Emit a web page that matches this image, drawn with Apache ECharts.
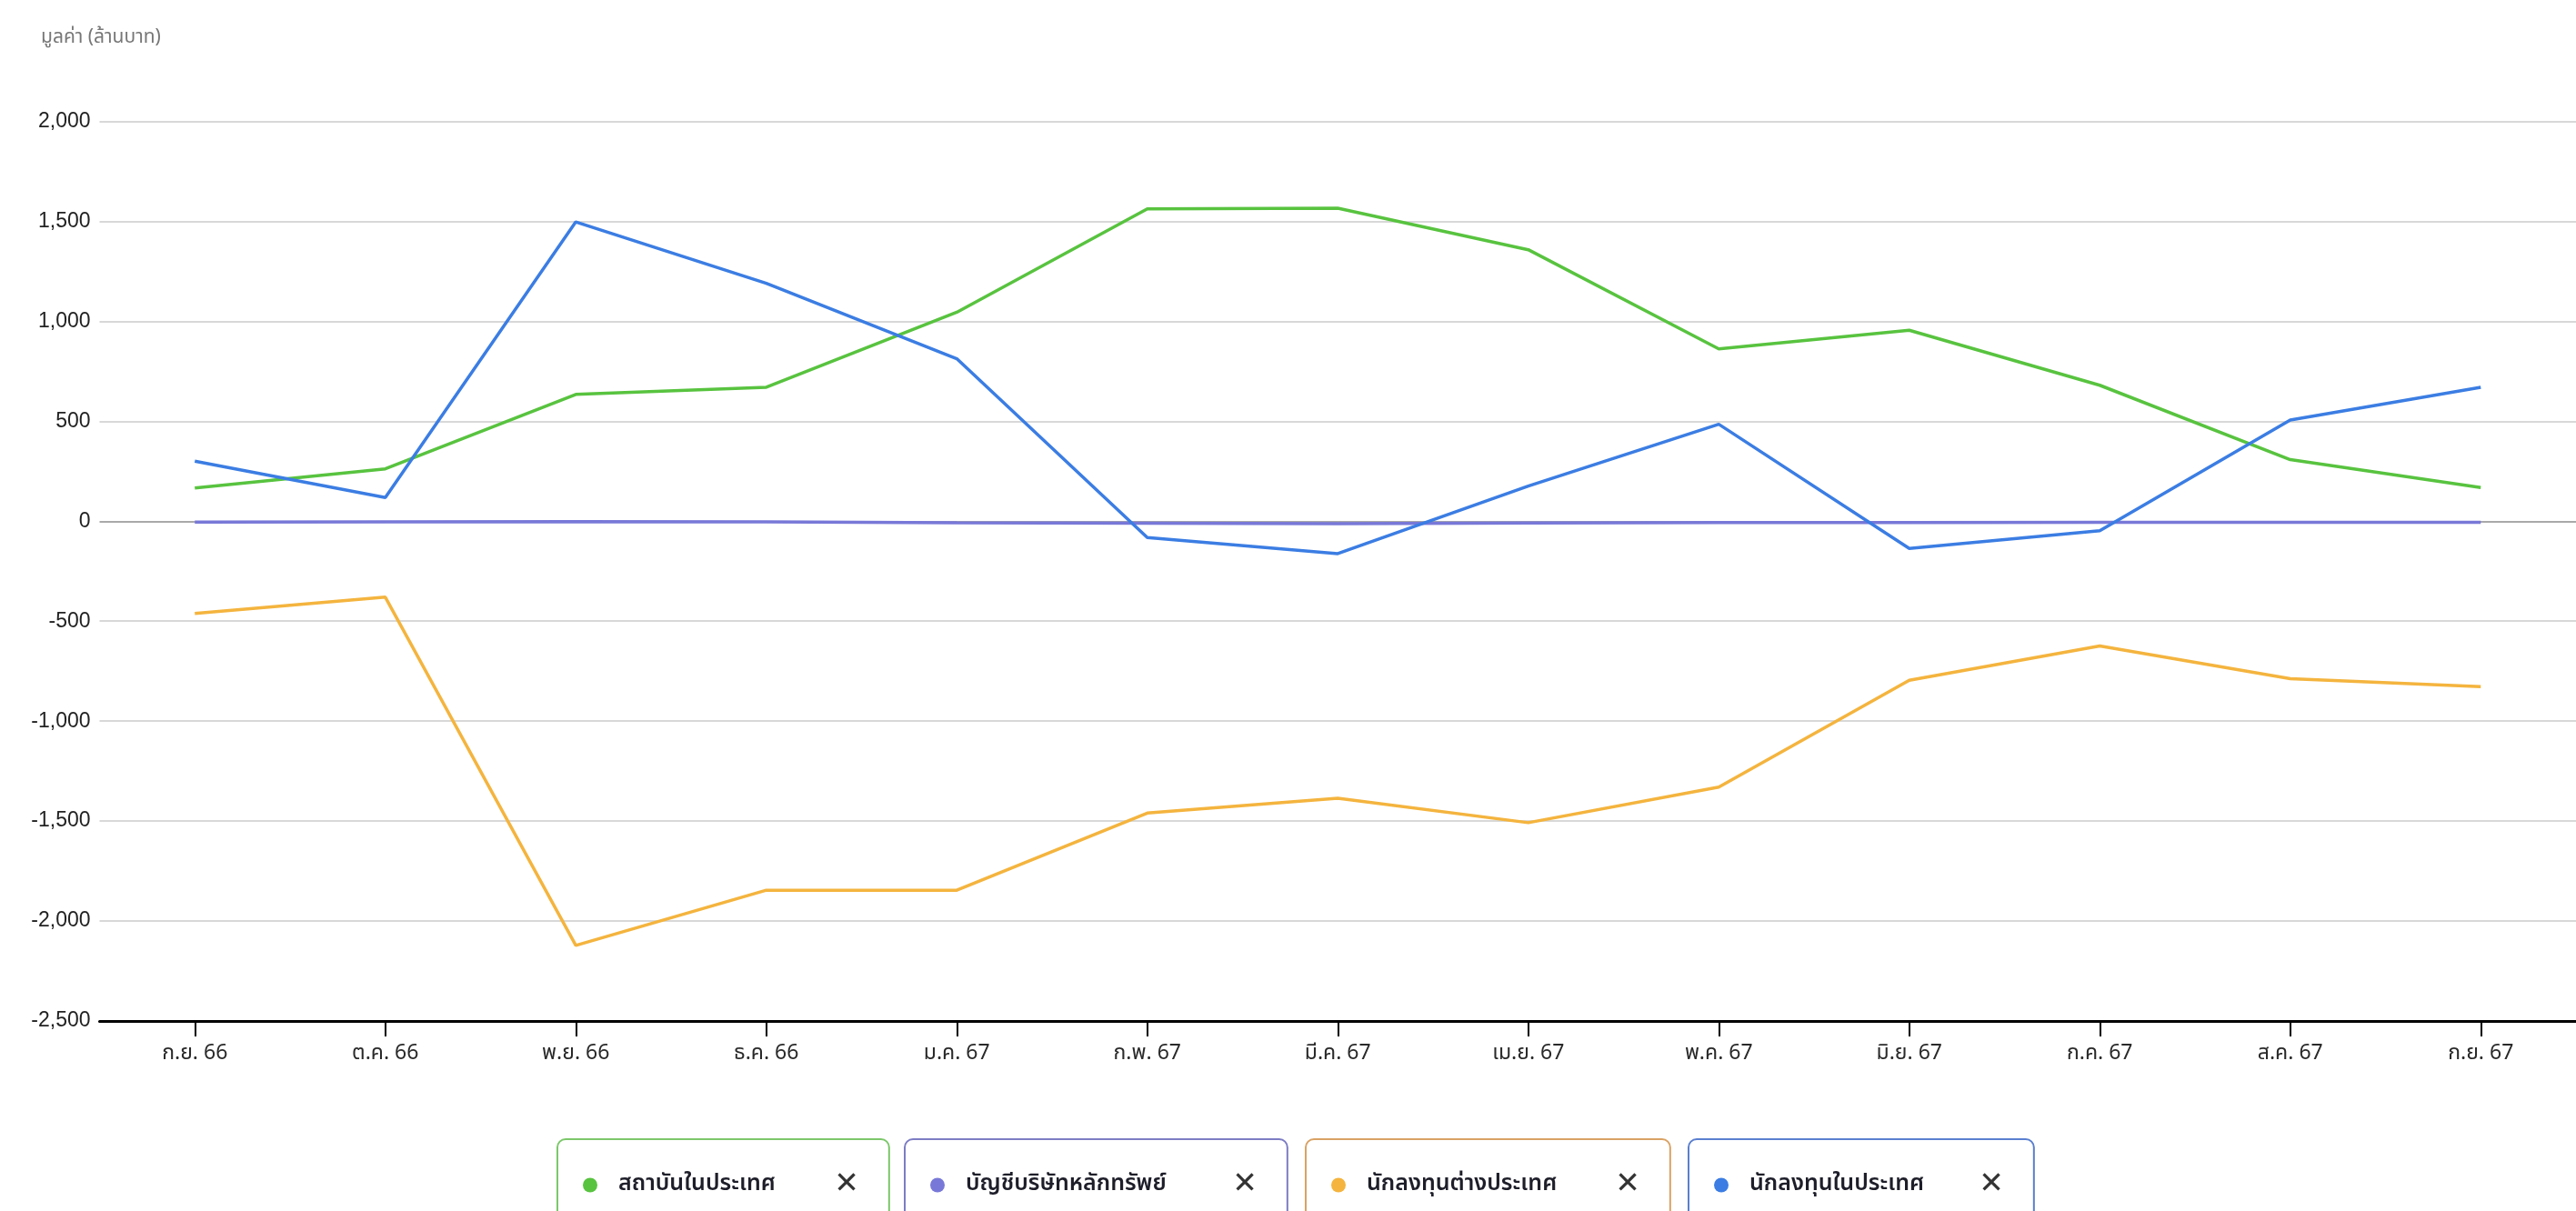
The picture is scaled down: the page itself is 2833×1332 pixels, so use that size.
<!DOCTYPE html>
<html>
<head>
<meta charset="utf-8">
<script src="https://cdn.jsdelivr.net/npm/echarts@6/dist/echarts.min.js"></script>
<style>
  html, body { margin: 0; padding: 0; background: #ffffff; overflow: hidden; }
  #chart { width: 2833px; height: 1332px; }
</style>
</head>
<body>
<div id="chart"></div>
<script>
// ---- data ----
const categories = ['ก.ย. 66', 'ต.ค. 66', 'พ.ย. 66', 'ธ.ค. 66', 'ม.ค. 67', 'ก.พ. 67', 'มี.ค. 67', 'เม.ย. 67', 'พ.ค. 67', 'มิ.ย. 67', 'ก.ค. 67', 'ส.ค. 67', 'ก.ย. 67'];
const seriesNames = ['สถาบันในประเทศ', 'บัญชีบริษัทหลักทรัพย์', 'นักลงทุนต่างประเทศ', 'นักลงทุนในประเทศ'];
const localInstitutions = [166, 262, 634, 670, 1045, 1562, 1566, 1358, 862, 955, 680, 308, 168];
const brokerAccounts   = [-4, -3, -2, -3, -8, -10, -12, -9, -7, -7, -5, -5, -5];
const foreignInvestors = [-462, -380, -2122, -1846, -1846, -1460, -1386, -1508, -1330, -796, -624, -788, -828];
const localInvestors   = [300, 118, 1497, 1190, 813, -82, -162, 176, 485, -136, -48, 506, 670];
const yTicks = { min: -2500, max: 2000, interval: 500 };
const axisTitle = 'มูลค่า (ล้านบาท)';

// ---- style ----
const colors = ['#58c33f', '#7878d8', '#f4b43e', '#3b7de3'];
const chipBorders = ['#7cc76a', '#7c7cc4', '#d9a265', '#5a7fcf'];
const chipLayout = [
  { left: 613, nameW: 238 },
  { left: 995, nameW: 294 },
  { left: 1436, nameW: 274 },
  { left: 1857, nameW: 253 }
];
const thaiFont = '"Noto Sans Thai", "Noto Sans Thai UI", Tahoma, "Noto Sans", "DejaVu Sans", sans-serif';

const values = [localInstitutions, brokerAccounts, foreignInvestors, localInvestors];

const nTicks = Math.round((yTicks.max - yTicks.min) / yTicks.interval) + 1;
const splitColors = [];
for (let i = 0; i < nTicks; i++) {
  const v = yTicks.min + i * yTicks.interval;
  splitColors.push(v === 0 ? '#a9a9a9' : '#d8d8d8');
}

const legends = seriesNames.map((name, i) => ({
  data: [name],
  left: chipLayout[i].left,
  top: 1253,
  orient: 'horizontal',
  icon: 'circle',
  itemWidth: 16,
  itemHeight: 16,
  itemGap: 0,
  selectedMode: false,
  padding: [34, 33, 40, 28],
  borderColor: chipBorders[i],
  borderWidth: 2,
  borderRadius: 9,
  backgroundColor: '#ffffff',
  formatter: (n) => '{n|' + n + '}{x|✕}',
  textStyle: {
    fontFamily: thaiFont,
    rich: {
      n: { width: chipLayout[i].nameW, padding: [0, 0, 0, 18], fontSize: 25, fontWeight: 600, color: '#1e1e2a', fontFamily: thaiFont },
      x: { width: 26, align: 'center', fontSize: 33, color: '#333333', fontFamily: '"DejaVu Sans", sans-serif' }
    }
  }
}));

const chart = echarts.init(document.getElementById('chart'), null, { renderer: 'canvas' });
chart.setOption({
  backgroundColor: '#ffffff',
  animation: false,
  color: colors,
  title: {
    text: axisTitle,
    left: 40,
    top: 27,
    textStyle: { fontSize: 21, fontWeight: 'normal', color: '#777777', fontFamily: thaiFont }
  },
  legend: legends,
  grid: { left: 109.5, right: -20.5, top: 133.5, bottom: 209, containLabel: false },
  xAxis: {
    type: 'category',
    data: categories,
    boundaryGap: true,
    axisLine: { show: true, onZero: false, lineStyle: { color: '#000000', width: 3 } },
    axisTick: { show: true, alignWithLabel: true, length: 17, lineStyle: { color: '#000000', width: 2 } },
    axisLabel: { margin: 26, fontSize: 23, color: '#2a2a2a', fontFamily: thaiFont },
    splitLine: { show: false }
  },
  yAxis: {
    type: 'value',
    min: yTicks.min,
    max: yTicks.max,
    interval: yTicks.interval,
    axisLine: { show: false },
    axisTick: { show: false },
    axisLabel: { margin: 10, fontSize: 23, color: '#222222', fontFamily: '"Liberation Sans", Arial, sans-serif' },
    splitLine: { show: true, lineStyle: { color: splitColors, width: 2 } }
  },
  series: seriesNames.map((name, i) => ({
    name: name,
    type: 'line',
    data: values[i],
    symbol: 'none',
    showSymbol: false,
    smooth: false,
    lineStyle: { width: 3.5, color: colors[i] },
    itemStyle: { color: colors[i] },
    z: 2 + i
  }))
});
</script>
</body>
</html>
